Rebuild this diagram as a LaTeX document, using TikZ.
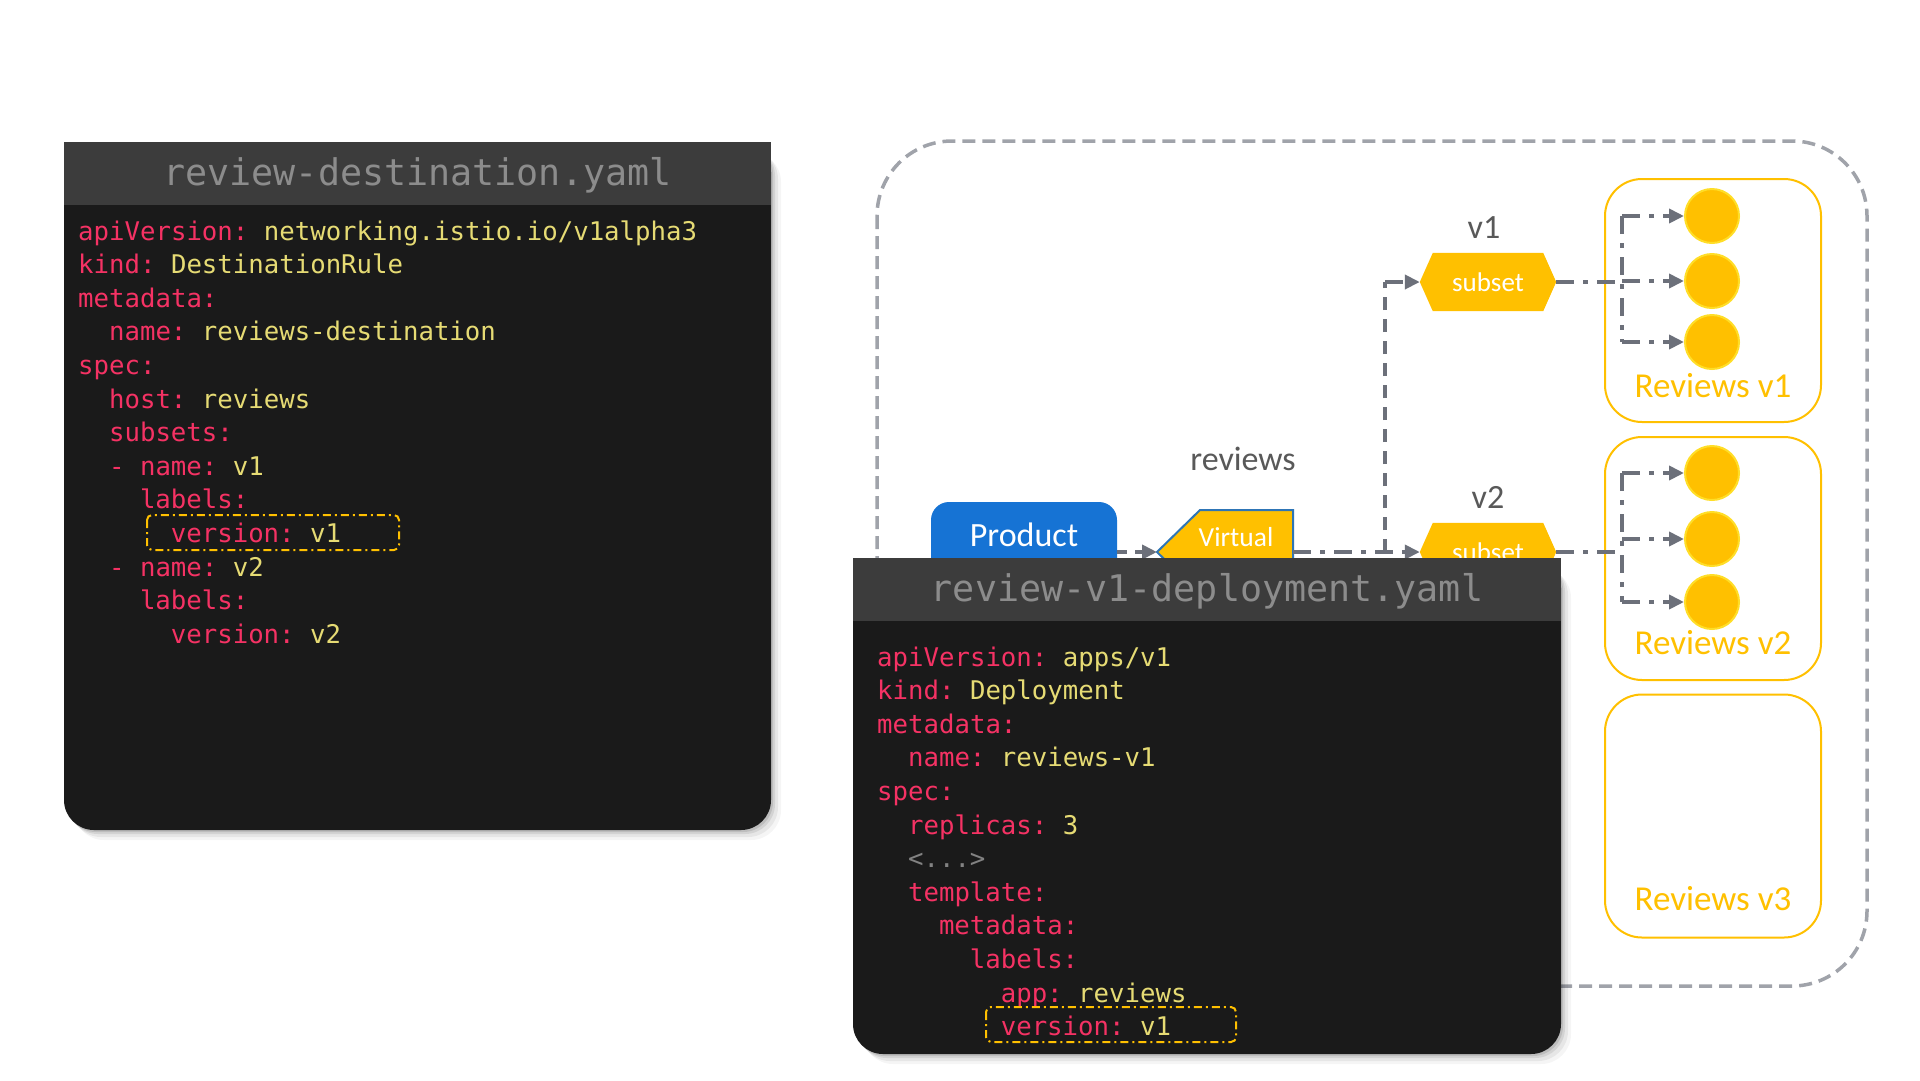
\documentclass[tikz,border=0pt]{standalone}
\usepackage{fontspec}
\setmainfont{Carlito}
\newfontfamily\codefont{DejaVu Sans Mono}
\usetikzlibrary{arrows.meta,backgrounds}
\definecolor{keycol}{RGB}{245,50,100}
\definecolor{valcol}{RGB}{230,219,116}
\definecolor{panelbg}{RGB}{26,26,26}
\definecolor{panelhdr}{RGB}{60,60,60}
\definecolor{hdrtext}{RGB}{140,140,140}
\definecolor{dimgray}{RGB}{130,130,130}
\definecolor{ycol}{RGB}{255,192,0}
\definecolor{podline}{RGB}{255,222,40}
\definecolor{pblue}{RGB}{22,115,212}
\definecolor{vblue}{RGB}{46,117,182}
\definecolor{arrgray}{RGB}{108,112,122}
\definecolor{outgray}{RGB}{160,163,170}
\definecolor{lblgray}{RGB}{89,89,89}
\newcommand{\csp}{\phantom{x}}
\newcommand{\K}[1]{\textcolor{keycol}{#1}}
\newcommand{\V}[1]{\csp\textcolor{valcol}{#1}}
\begin{document}
\begin{tikzpicture}[x=1pt,y=-1pt,
  code/.style={font=\codefont\fontsize{25.7}{30}\selectfont, inner sep=0pt, anchor=base west},
  hdr/.style={font=\codefont\fontsize{36.7}{40}\selectfont, text=hdrtext, inner sep=0pt, anchor=base},
  lbl/.style={font=\fontsize{34}{40}\selectfont, text=lblgray, inner sep=0pt, anchor=base},
  revbox/.style={draw=ycol, line width=2pt, rounded corners=37pt, minimum width=216pt, minimum height=243pt, inner sep=0pt},
  pod/.style={circle, fill=ycol, draw=podline, line width=2pt, minimum size=54pt, inner sep=0pt},
  revlbl/.style={font=\fontsize{35}{40}\selectfont, text=ycol, inner sep=0pt, anchor=base},
  subsetnode/.style={minimum width=136pt, minimum height=58pt, inner sep=0pt, text=white, font=\fontsize{27}{30}\selectfont},
  ddot/.style={draw=arrgray, line width=4.5pt, dash pattern=on 18pt off 9pt on 5pt off 9pt},
  dsh/.style={draw=arrgray, line width=3.5pt, dash pattern=on 13pt off 9pt},
  dshort/.style={draw=arrgray, line width=4pt, dash pattern=on 10pt off 8pt},
  tip/.style={-{Triangle[length=15pt,width=14pt]}},
  ybox/.style={draw=ycol, line width=2pt, dash pattern=on 8pt off 4pt on 2pt off 4pt, rounded corners=5pt},
  outer/.style={draw=outgray, line width=3.5pt, dash pattern=on 13pt off 7pt, rounded corners=75pt}
]
\useasboundingbox (0,0) rectangle (1920,1080);
\begin{scope}[on background layer]
  \fill[white] (0,0) rectangle (1920,1080);
\end{scope}

% ---------- left panel ----------
\foreach \s/\o in {10/0.04,7/0.06,4/0.08,2/0.1}
  \fill[black,opacity=\o,rounded corners=30pt] (64+\s,142+\s) rectangle (771+\s,830+\s);
\fill[panelbg,rounded corners=30pt] (64,142) rectangle (771,830);
\fill[panelhdr] (64,142) rectangle (771,205);
\node[hdr] (h1) at (417.5,185) {review-destination.yaml};
\node[code] (L1) at (78,240) {\K{apiVersion:}\V{networking.istio.io/v1alpha3}};
\node[code] (L2) at (78,273.6) {\K{kind:}\V{DestinationRule}};
\node[code] (L3) at (78,307.2) {\K{metadata:}};
\node[code] (L4) at (108.9,340.8) {\K{name:}\V{reviews-destination}};
\node[code] (L5) at (78,374.4) {\K{spec:}};
\node[code] (L6) at (108.9,408) {\K{host:}\V{reviews}};
\node[code] (L7) at (108.9,441.6) {\K{subsets:}};
\node[code] (L8) at (108.9,475.2) {\K{-\csp name:}\V{v1}};
\node[code] (L9) at (139.8,508.8) {\K{labels:}};
\node[code] (L10) at (170.7,542.4) {\K{version:}\V{v1}};
\node[code] (L11) at (108.9,576) {\K{-\csp name:}\V{v2}};
\node[code] (L12) at (139.8,609.6) {\K{labels:}};
\node[code] (L13) at (170.7,643.2) {\K{version:}\V{v2}};
\draw[ybox] (147,515) rectangle (399,550);

% ---------- diagram ----------
\draw[outer] (877,141) rectangle (1867,986);

\node[revbox] (r1) at (1713,300.5) {};
\node[revbox] (r2) at (1713,558.5) {};
\node[revbox] (r3) at (1713,816) {};
\node[revlbl] (rl1) at (1713,397) {Reviews v1};
\node[revlbl] (rl2) at (1713,654) {Reviews v2};
\node[revlbl] (rl3) at (1713,910) {Reviews v3};

\node[pod] (p11) at (1712,216) {};
\node[pod] (p12) at (1712,281) {};
\node[pod] (p13) at (1712,342) {};
\node[pod] (p21) at (1712,473) {};
\node[pod] (p22) at (1712,539) {};
\node[pod] (p23) at (1712,602) {};

\node[lbl] (lv1) at (1484,238) {v1};
\node[lbl] (lv2) at (1488,508) {v2};
\node[lbl] (lrev) at (1243,470) {reviews};

\node[subsetnode] (s1) at (1488,282) {subset};
\node[subsetnode] (s2) at (1488,552) {subset};
\begin{scope}[on background layer]
  \foreach \n in {s1,s2}
    \fill[ycol] (\n.west) -- ([xshift=13pt]\n.north west) -- ([xshift=-13pt]\n.north east)
      -- (\n.east) -- ([xshift=-13pt]\n.south east) -- ([xshift=13pt]\n.south west) -- cycle;
\end{scope}

% Product and Virtual
\node[fill=pblue, rounded corners=18pt, minimum width=186pt, inner sep=0pt, text height=44pt,
      text depth=40pt, anchor=base, text=white, font=\fontsize{34}{40}\selectfont] (product) at (1024,546) {Product};
\fill[ycol] (1200,510) -- (1293,510) -- (1293,594) -- (1200,594) -- (1157,552) -- cycle;
\draw[vblue, line width=2pt] (1293,594) -- (1293,510) -- (1200,510) -- (1157,552) -- (1200,594);
\node[inner sep=0pt, text=white, font=\fontsize{27.5}{30}\selectfont] (virt) at (1236,537) {Virtual};
\coordinate (vt) at (1157,552);
\coordinate (vr) at (1293,552);
\coordinate (j) at (1385,552);
\coordinate (t1) at (1622,282);
\coordinate (t2) at (1622,552);

% connectors
\draw[dshort,tip] (product.east |- vt) -- (vt);
\draw[ddot,tip] (vr) -- (s2.west);
\draw[dsh] (j) -- (j |- s1);
\draw[ddot,tip] (j |- s1) -- (s1.west);

\draw[ddot] (s1.east) -- (t1);
\draw[ddot] (t1 |- p11) -- (t1 |- p13);
\foreach \p in {p11,p12,p13}
  \draw[ddot,tip] (t1 |- \p) -- (\p.west);

\draw[ddot] (s2.east) -- (t2);
\draw[ddot] (t2 |- p21) -- (t2 |- p23);
\foreach \p in {p21,p22,p23}
  \draw[ddot,tip] (t2 |- \p) -- (\p.west);

% ---------- deployment panel ----------
\foreach \s/\o in {10/0.04,7/0.06,4/0.08,2/0.1}
  \fill[black,opacity=\o,rounded corners=30pt] (853+\s,558+\s) rectangle (1561+\s,1054+\s);
\fill[panelbg,rounded corners=30pt] (853,558) rectangle (1561,1054);
\fill[panelhdr] (853,558) rectangle (1561,621);
\node[hdr] (h2) at (1207,601) {review-v1-deployment.yaml};
\node[code] (D1) at (877,666) {\K{apiVersion:}\V{apps/v1}};
\node[code] (D2) at (877,699.6) {\K{kind:}\V{Deployment}};
\node[code] (D3) at (877,733.2) {\K{metadata:}};
\node[code] (D4) at (907.9,766.8) {\K{name:}\V{reviews-v1}};
\node[code] (D5) at (877,800.4) {\K{spec:}};
\node[code] (D6) at (907.9,834) {\K{replicas:}\V{3}};
\node[code,text=dimgray] (D7) at (907.9,867.6) {<...>};
\node[code] (D8) at (907.9,901.2) {\K{template:}};
\node[code] (D9) at (938.8,934.8) {\K{metadata:}};
\node[code] (D10) at (969.7,968.4) {\K{labels:}};
\node[code] (D11) at (1000.6,1002) {\K{app:}\V{reviews}};
\node[code] (D12) at (1000.6,1035.6) {\K{version:}\V{v1}};
\draw[ybox] (986,1007) rectangle (1236,1042);
\end{tikzpicture}
\end{document}
